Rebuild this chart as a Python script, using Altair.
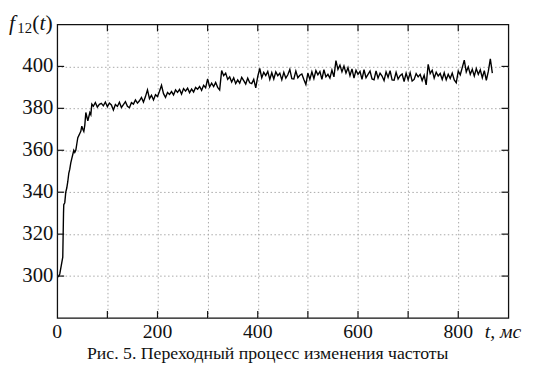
import altair as alt
import pandas as pd

# ---- data ----
t_rise = [2, 5, 8, 11, 12.5, 13, 15, 17, 19, 21, 23, 25, 27, 29, 31, 33, 35, 37,
          39, 41, 43, 45, 47, 49, 51, 53, 55, 57, 59, 61, 63, 65, 67, 69]
f_rise = [299.5, 301, 305, 309, 330, 334, 335, 340, 342, 345, 349, 351, 354, 356,
          358, 360, 359, 360, 363, 366, 367, 368, 369, 371.5, 370, 369, 372, 378,
          376, 374, 376, 378, 377, 382]

t_plateau = list(range(72, 869, 4))
f_plateau = [
    381.0, 382.8, 380.6, 381.9, 382.4, 381.2, 383.0, 380.8, 382.5, 381.6,
    379.2, 381.8, 380.9, 382.9, 380.4, 381.8, 383.2, 381.0, 380.3, 382.7,
    382.0, 384.0, 382.5, 383.6, 385.2, 383.0, 385.6, 388.8, 384.6, 386.2,
    384.0, 386.5, 385.6, 388.2, 391.0, 387.0, 385.2, 387.6, 386.6, 388.0,
    386.4, 388.8, 387.6, 389.0, 386.8, 389.4, 388.2, 389.6, 387.5, 389.2,
    387.8, 390.0, 389.1, 390.4, 388.6, 391.0, 389.8, 394.0, 390.2, 392.0,
    390.4, 392.4, 390.0, 388.8, 398.0, 395.6, 396.8, 393.8, 395.0, 392.6,
    394.6, 391.8, 393.6, 392.0, 394.8, 393.2, 391.6, 394.4, 392.2, 391.8,
    393.8, 389.8, 395.2, 399.0, 394.6, 397.2, 395.6, 397.6, 393.8, 397.0,
    394.0, 397.4, 395.6, 396.8, 393.6, 397.2, 394.4, 396.0, 398.6, 394.2,
    394.0, 397.8, 394.6, 395.8, 396.4, 393.8, 391.4, 396.8, 393.8, 397.4,
    394.2, 398.0, 396.0, 397.6, 393.8, 398.4, 395.0, 396.2, 394.4, 398.2,
    395.0, 402.8, 398.6, 400.6, 397.4, 400.2, 396.8, 399.4, 395.6, 398.8,
    394.4, 398.2, 396.2, 397.6, 393.8, 398.4, 394.6, 396.2, 397.8, 394.0,
    393.6, 397.8, 394.4, 396.8, 395.4, 393.2, 397.4, 394.8, 398.0, 393.6,
    393.4, 397.2, 394.0, 395.6, 396.4, 392.8, 396.8, 393.6, 397.0, 393.0,
    393.8, 396.6, 395.0, 396.2, 393.2, 395.8, 391.2, 401.0, 396.6, 398.2,
    394.4, 397.2, 395.4, 396.6, 393.8, 397.0, 393.6, 396.2, 394.2, 396.8,
    393.6, 392.2, 397.8, 396.0, 399.4, 403.0, 397.4, 399.8, 396.2, 398.6,
    395.4, 399.0, 396.2, 398.4, 394.6, 398.0, 393.4, 397.6, 403.6, 396.8,
]

x_grid = [100, 200, 300, 400, 500, 600, 700, 800]
y_grid = [300, 320, 340, 360, 380, 400]
x_labels = [0, 200, 400, 600, 800]
y_labels = [300, 320, 340, 360, 380, 400]

caption = "Рис. 5. Переходный процесс изменения частоты"

df = pd.DataFrame({"t": t_rise + t_plateau, "f": f_rise + f_plateau})
xt = pd.DataFrame({"t": x_grid})
yt = pd.DataFrame({"f": y_grid})
xl = pd.DataFrame({"t": x_labels})
yl = pd.DataFrame({"f": y_labels})

FONT = "Liberation Serif"
INK = "#111111"
W, H, TL = 458, 298, 7

xs = alt.Scale(domain=[0, 900], nice=False, zero=False)
ys = alt.Scale(domain=[280, 420], nice=False, zero=False)

grid_axis = dict(grid=True, gridColor="#a8a8a8", gridDash=[1.5, 2.5], gridWidth=1,
                 ticks=False, labels=False, domain=False, title=None)

line = alt.Chart(df).mark_line(color="#000000", strokeWidth=1.4).encode(
    x=alt.X("t:Q", scale=xs, axis=alt.Axis(values=x_grid, **grid_axis)),
    y=alt.Y("f:Q", scale=ys, axis=alt.Axis(values=y_grid, **grid_axis)),
)

tick_style = dict(color=INK, strokeWidth=1.2)
top_ticks = alt.Chart(xt).mark_rule(**tick_style).encode(
    x=alt.X("t:Q", scale=xs), y=alt.value(0), y2=alt.value(TL))
bottom_ticks = alt.Chart(xt).mark_rule(**tick_style).encode(
    x=alt.X("t:Q", scale=xs), y=alt.value(H - TL), y2=alt.value(H))
left_ticks = alt.Chart(yt).mark_rule(**tick_style).encode(
    y=alt.Y("f:Q", scale=ys), x=alt.value(0), x2=alt.value(TL))
right_ticks = alt.Chart(yt).mark_rule(**tick_style).encode(
    y=alt.Y("f:Q", scale=ys), x=alt.value(W - TL), x2=alt.value(W))

x_tick_labels = alt.Chart(xl).mark_text(
    font=FONT, fontSize=20, align="center", baseline="alphabetic", color=INK
).encode(x=alt.X("t:Q", scale=xs), y=alt.value(H + 20.8), text=alt.Text("t:Q"))
y_tick_labels = alt.Chart(yl).mark_text(
    font=FONT, fontSize=21, align="right", baseline="middle", color=INK
).encode(y=alt.Y("f:Q", scale=ys), x=alt.value(-4), text=alt.Text("f:Q"))

one = pd.DataFrame({"k": [0]})


def label(txt, x, y, size, style="normal", align="left"):
    return alt.Chart(one).mark_text(
        text=txt, font=FONT, fontSize=size, fontStyle=style, align=align,
        baseline="alphabetic", color=INK,
    ).encode(x=alt.value(x), y=alt.value(y))


texts = [
    label("f", -49, 5.5, 22, "italic"),
    label("12", -40.5, 8.5, 15),
    label("(", -25.5, 5.5, 22),
    label("t", -18, 5.5, 22, "italic"),
    label(")", -12, 5.5, 22),
    label("t, мс", 434, H + 20.8, 20, "italic"),
    label(caption, 213.7, 339.3, 18, align="center"),
]

# invisible anchors that pin the layout's top-left corner to the page origin
anchor_h = alt.Chart(one).mark_rule(color="white", opacity=0, strokeWidth=1).encode(
    x=alt.value(-49.3), x2=alt.value(483), y=alt.value(-13.7))
anchor_v = alt.Chart(one).mark_rule(color="white", opacity=0, strokeWidth=1).encode(
    x=alt.value(-49.3), y=alt.value(-13.7), y2=alt.value(330))

chart = alt.layer(anchor_h, anchor_v, line, top_ticks, bottom_ticks, left_ticks,
                  right_ticks, x_tick_labels, y_tick_labels, *texts).properties(
    width=W, height=H, padding=0,
).configure_view(stroke=INK, strokeWidth=1.3)

chart.save("out.html", embed_options={"renderer": "svg", "actions": False})
